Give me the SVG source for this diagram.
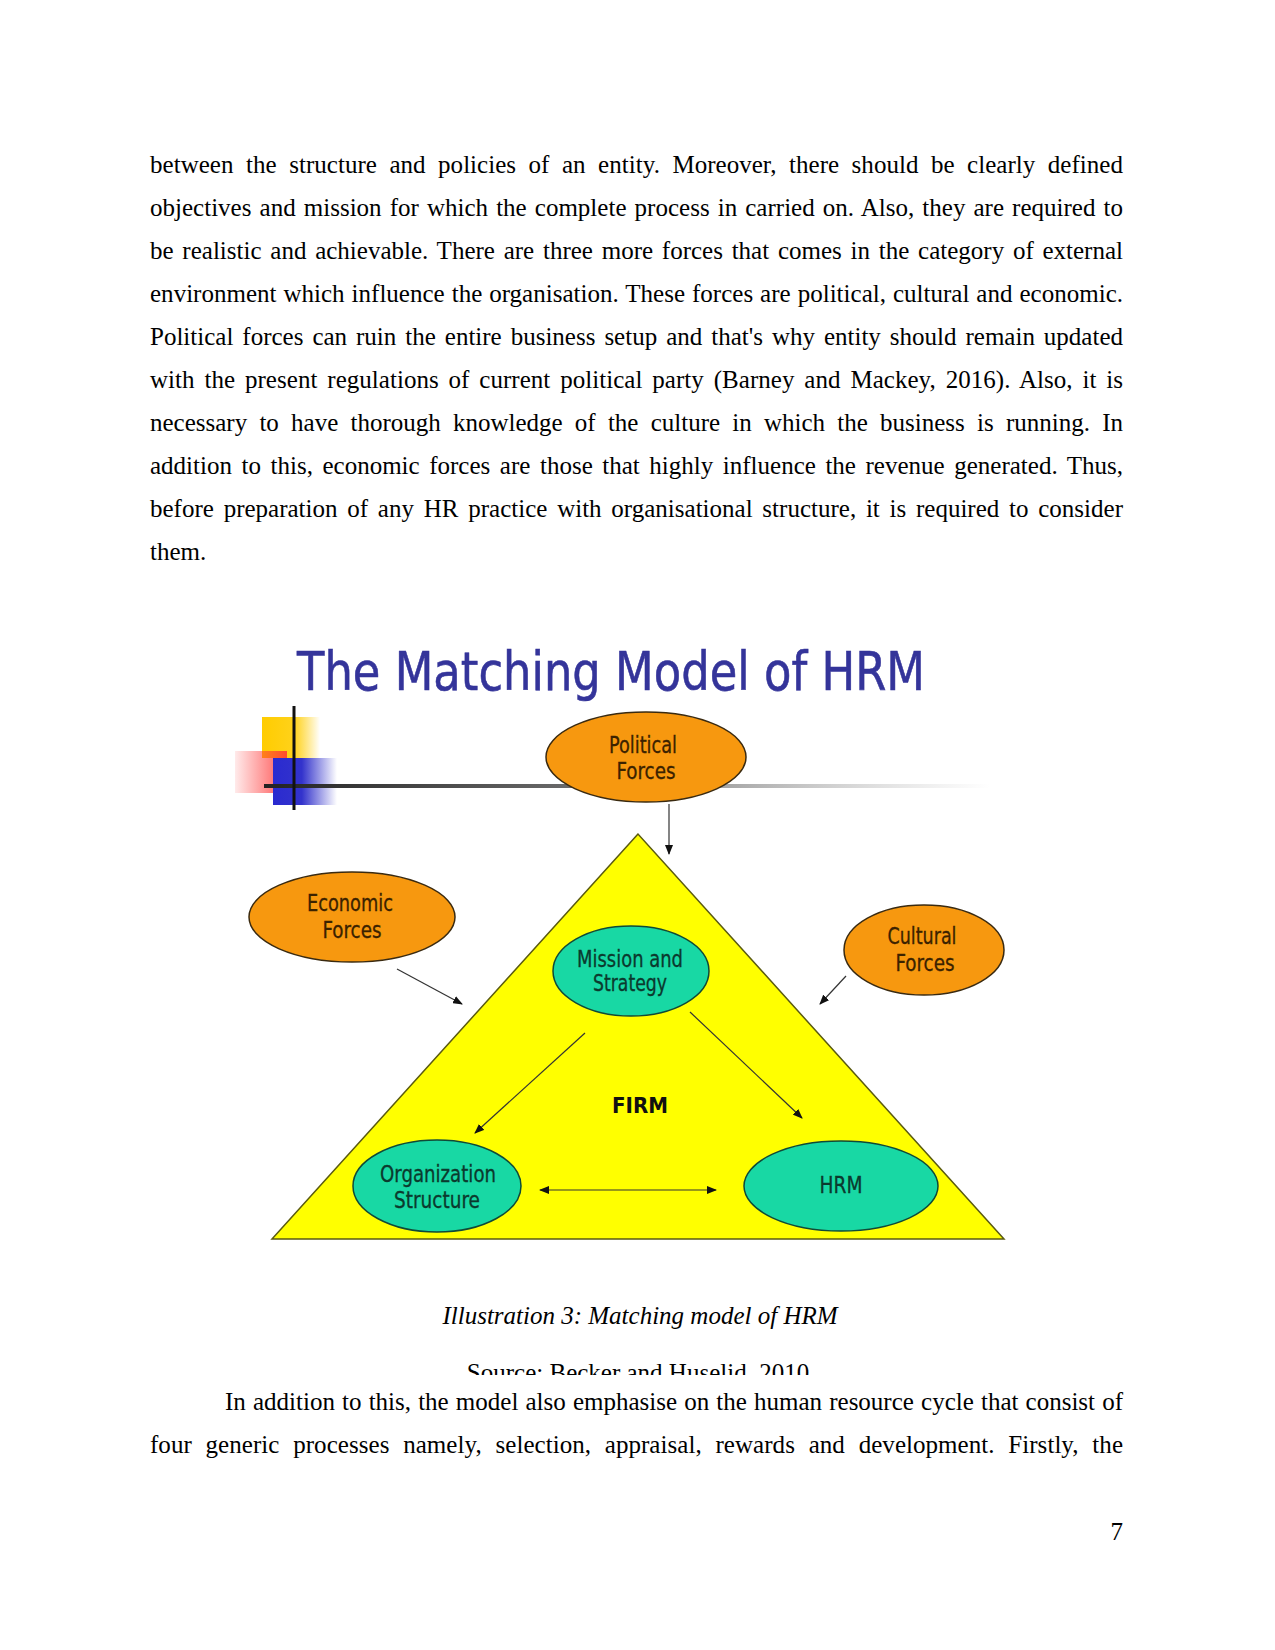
<svg xmlns="http://www.w3.org/2000/svg" width="1275" height="1650" viewBox="0 0 1275 1650">
<style>
.p{font-family:"Liberation Serif","Times New Roman",serif;font-size:25px;fill:#000}
.lbl{font-family:"DejaVu Sans Condensed","DejaVu Sans",sans-serif;font-size:23px;text-anchor:middle;stroke-width:0.3}
.o{fill:#F7980F;stroke:#3a2a10;stroke-width:1.5}
.t{fill:#18D8A4;stroke:#0f4a38;stroke-width:1.5}
.ot{fill:#3b2200;stroke:#3b2200}
.tt{fill:#0b3a2e;stroke:#0b3a2e}
.c{stroke:#333;stroke-width:1.2;fill:none}
</style>
<defs>
<marker id="ah" markerUnits="userSpaceOnUse" markerWidth="10" markerHeight="8" refX="9" refY="4" orient="auto">
<path d="M0,0 L10,4 L0,8 Z" fill="#111"/>
</marker>
<marker id="as" markerUnits="userSpaceOnUse" markerWidth="10" markerHeight="8" refX="1" refY="4" orient="auto">
<path d="M10,0 L0,4 L10,8 Z" fill="#111"/>
</marker>
<linearGradient id="gy" x1="0" x2="1" y1="0" y2="0"><stop offset="0" stop-color="#FFCC00"/><stop offset="0.55" stop-color="#FFD21A"/><stop offset="1" stop-color="#FFCC00" stop-opacity="0"/></linearGradient>
<linearGradient id="gr" x1="0" x2="1" y1="0" y2="0"><stop offset="0" stop-color="#FF3333" stop-opacity="0.1"/><stop offset="1" stop-color="#FF3333" stop-opacity="0.85"/></linearGradient>
<linearGradient id="gb" x1="0" x2="1" y1="0" y2="0"><stop offset="0" stop-color="#2a2ad0"/><stop offset="0.45" stop-color="#3333CC"/><stop offset="1" stop-color="#3333CC" stop-opacity="0"/></linearGradient>
<linearGradient id="gl" x1="0" x2="1" y1="0" y2="0"><stop offset="0" stop-color="#222"/><stop offset="0.5" stop-color="#777"/><stop offset="1" stop-color="#aaa" stop-opacity="0"/></linearGradient>
<clipPath id="srcclip"><rect x="0" y="1340" width="1275" height="35"/></clipPath>
</defs>

<g id="text-top">
<text class="p" x="150" y="173" word-spacing="6.2" textLength="973" lengthAdjust="spacing">between the structure and policies of an entity. Moreover, there should be clearly defined</text>
<text class="p" x="150" y="216" word-spacing="1.8" textLength="973" lengthAdjust="spacing">objectives and mission for which the complete process in carried on. Also, they are required to</text>
<text class="p" x="150" y="259" word-spacing="2.5" textLength="973" lengthAdjust="spacing">be realistic and achievable. There are three more forces that comes in the category of external</text>
<text class="p" x="150" y="302" word-spacing="0.7" textLength="973" lengthAdjust="spacing">environment which influence the organisation. These forces are political, cultural and economic.</text>
<text class="p" x="150" y="345" word-spacing="2.7" textLength="973" lengthAdjust="spacing">Political forces can ruin the entire business setup and that's why entity should remain updated</text>
<text class="p" x="150" y="388" word-spacing="3.6" textLength="973" lengthAdjust="spacing">with the present regulations of current political party (Barney and Mackey, 2016). Also, it is</text>
<text class="p" x="150" y="431" word-spacing="6.0" textLength="973" lengthAdjust="spacing">necessary to have thorough knowledge of the culture in which the business is running. In</text>
<text class="p" x="150" y="474" word-spacing="3.3" textLength="973" lengthAdjust="spacing">addition to this, economic forces are those that highly influence the revenue generated. Thus,</text>
<text class="p" x="150" y="517" word-spacing="3.5" textLength="973" lengthAdjust="spacing">before preparation of any HR practice with organisational structure, it is required to consider</text>
<text class="p" x="150" y="560">them.</text>
</g>

<g id="title">
<text x="297" y="690" textLength="628" lengthAdjust="spacingAndGlyphs" style="font-family:'DejaVu Sans',Verdana,sans-serif;font-size:53px;fill:#34349A;stroke:#34349A;stroke-width:0.6">The Matching Model of HRM</text>
</g>

<g id="decoration">
<rect x="262" y="717" width="58" height="41" fill="url(#gy)"/>
<rect x="235" y="751" width="52" height="42" fill="url(#gr)"/>
<rect x="273" y="758" width="64" height="47" fill="url(#gb)"/>
<rect x="264" y="784" width="726" height="4" fill="url(#gl)"/>
<rect x="292.5" y="706" width="3" height="104" fill="#111"/>
</g>

<g id="firm">
<polygon points="638,834 272,1239 1004,1239" fill="#FFFF00" stroke="#5a5a10" stroke-width="1.5"/>
<text x="640" y="1113" textLength="56" lengthAdjust="spacingAndGlyphs" style="font-family:'DejaVu Sans',sans-serif;font-size:21px;font-weight:bold;text-anchor:middle;fill:#111">FIRM</text>
</g>

<g id="political">
<ellipse class="o" cx="646" cy="757" rx="100" ry="45"/>
<text class="lbl ot" x="643" y="753" textLength="68" lengthAdjust="spacingAndGlyphs">Political</text>
<text class="lbl ot" x="646" y="779" textLength="59" lengthAdjust="spacingAndGlyphs">Forces</text>
</g>

<g id="economic">
<ellipse class="o" cx="352" cy="917" rx="103" ry="45"/>
<text class="lbl ot" x="350" y="911" textLength="86" lengthAdjust="spacingAndGlyphs">Economic</text>
<text class="lbl ot" x="352" y="938" textLength="59" lengthAdjust="spacingAndGlyphs">Forces</text>
</g>

<g id="cultural">
<ellipse class="o" cx="924" cy="950" rx="80" ry="45"/>
<text class="lbl ot" x="922" y="944" textLength="69" lengthAdjust="spacingAndGlyphs">Cultural</text>
<text class="lbl ot" x="925" y="971" textLength="59" lengthAdjust="spacingAndGlyphs">Forces</text>
</g>

<g id="mission">
<ellipse class="t" cx="631" cy="971" rx="78" ry="45"/>
<text class="lbl tt" x="630" y="967" textLength="106" lengthAdjust="spacingAndGlyphs">Mission and</text>
<text class="lbl tt" x="630" y="991" textLength="74" lengthAdjust="spacingAndGlyphs">Strategy</text>
</g>

<g id="organization">
<ellipse class="t" cx="437" cy="1186" rx="84" ry="46"/>
<text class="lbl tt" x="438" y="1182" textLength="116" lengthAdjust="spacingAndGlyphs">Organization</text>
<text class="lbl tt" x="437" y="1208" textLength="86" lengthAdjust="spacingAndGlyphs">Structure</text>
</g>

<g id="hrm">
<ellipse class="t" cx="841" cy="1186" rx="97" ry="45"/>
<text class="lbl tt" x="841" y="1193" textLength="43" lengthAdjust="spacingAndGlyphs">HRM</text>
</g>

<g id="connectors">
<line class="c" x1="669" y1="804" x2="669" y2="854" marker-end="url(#ah)"/>
<line class="c" x1="397" y1="969" x2="462" y2="1004" marker-end="url(#ah)"/>
<line class="c" x1="846" y1="976" x2="820" y2="1004" marker-end="url(#ah)"/>
<line class="c" x1="585" y1="1033" x2="475" y2="1133" marker-end="url(#ah)"/>
<line class="c" x1="690" y1="1012" x2="802" y2="1118" marker-end="url(#ah)"/>
<line class="c" x1="540" y1="1190" x2="716" y2="1190" marker-start="url(#as)" marker-end="url(#ah)"/>
</g>

<g id="caption">
<text x="640" y="1324" style="font-family:'Liberation Serif',serif;font-size:25px;font-style:italic;text-anchor:middle">Illustration 3: Matching model of HRM</text>
<text x="638" y="1381" clip-path="url(#srcclip)" style="font-family:'Liberation Serif',serif;font-size:25px;text-anchor:middle">Source: Becker and Huselid, 2010</text>
</g>

<g id="text-bottom">
<text class="p" x="225" y="1410" word-spacing="0.9" textLength="898" lengthAdjust="spacing">In addition to this, the model also emphasise on the human resource cycle that consist of</text>
<text class="p" x="150" y="1453" word-spacing="7.5" textLength="973" lengthAdjust="spacing">four generic processes namely, selection, appraisal, rewards and development. Firstly, the</text>
<text class="p" x="1123" y="1540" text-anchor="end">7</text>
</g>
</svg>
